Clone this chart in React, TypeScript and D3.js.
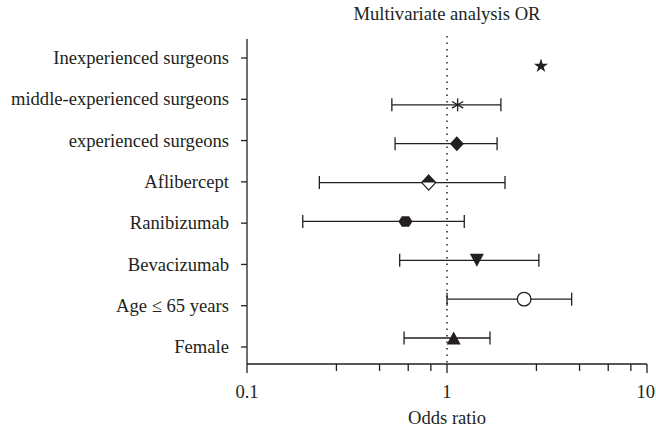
import React from "react";
import * as d3 from "d3";

// rows top to bottom
const labels = [
  "Inexperienced surgeons",
  "middle-experienced surgeons",
  "experienced surgeons",
  "Aflibercept",
  "Ranibizumab",
  "Bevacizumab",
  "Age ≤ 65 years",
  "Female",
];
const oddsRatio = [2.95, 1.13, 1.12, 0.81, 0.62, 1.41, 2.43, 1.08];
const ciLow = [null, 0.53, 0.55, 0.23, 0.19, 0.58, 1.0, 0.61];
const ciHigh = [null, 1.86, 1.78, 1.95, 1.22, 2.88, 4.2, 1.64];
const markers = ["star", "asterisk", "diamond", "halfDiamond", "hexagon", "triangleDown", "circle", "triangleUp"];

const majorTicks = [0.1, 1, 10];
const minorTicks = [0.28, 0.46, 0.64, 0.83, 2.8, 4.6, 6.4, 8.3];

const width = 656;
const height = 432;
const font = "'Liberation Serif', 'Times New Roman', serif";
const ink = "#231f20";
const fs = 18.6;

const x = d3.scaleLog().domain([0.1, 10]).range([247, 647]);
const yLabel = d3.scalePoint().domain(labels).range([58, 347]);
const yMark = d3.scalePoint().domain(labels).range([66, 338]);
const axisY = 364;

function markerPath(type: string): string {
  switch (type) {
    case "star":
      return d3.symbol().type(d3.symbolStar).size(62)()!;
    case "diamond":
      return "M0,-7.5L7,0L0,7.5L-7,0Z";
    case "hexagon":
      return "M-7,0L-3.6,-5.2L3.6,-5.2L7,0L3.6,5.2L-3.6,5.2Z";
    case "triangleDown":
      return "M-7,-6.5L7,-6.5L0,6.5Z";
    case "triangleUp":
      return "M-7,6.5L7,6.5L0,-6.5Z";
    default:
      return "";
  }
}

function Marker({ type, cx, cy }: { type: string; cx: number; cy: number }) {
  const t = `translate(${cx},${cy})`;
  if (type === "asterisk") {
    return (
      <g transform={t} stroke={ink} strokeWidth={1.3}>
        <line x1={0} y1={-6.5} x2={0} y2={6.5} />
        <line x1={-5.6} y1={-3.3} x2={5.6} y2={3.3} />
        <line x1={-5.6} y1={3.3} x2={5.6} y2={-3.3} />
      </g>
    );
  }
  if (type === "circle") {
    return <circle transform={t} r={6.8} fill="#fff" stroke={ink} strokeWidth={1.3} />;
  }
  if (type === "halfDiamond") {
    return (
      <g transform={t}>
        <path d="M0,-7.5L7,0L0,7.5L-7,0Z" fill="#fff" stroke={ink} strokeWidth={1.3} />
        <path d="M-7,0L0,-7.5L7,0Z" fill={ink} />
      </g>
    );
  }
  return <path transform={t} d={markerPath(type)} fill={ink} />;
}

export default function App() {
  return (
    <div style={{ position: "fixed", left: 0, top: 0, width, height, overflow: "hidden" }}>
      <svg width={width} height={height} style={{ display: "block" }}>
        <rect width={width} height={height} fill="#fff" />
        <text x={x(1)} y={20} textAnchor="middle" fontFamily={font} fontSize={fs} fill={ink}>
          Multivariate analysis OR
        </text>

        {/* reference line at OR = 1 */}
        <line x1={x(1)} x2={x(1)} y1={36} y2={axisY} stroke={ink} strokeWidth={1.5} strokeDasharray="1.5,5" />

        {/* left axis */}
        <line x1={x(0.1)} x2={x(0.1)} y1={39} y2={axisY} stroke={ink} strokeWidth={1.3} />
        {labels.map((l) => (
          <g key={l}>
            <line x1={x(0.1) - 6} x2={x(0.1)} y1={yLabel(l)} y2={yLabel(l)} stroke={ink} strokeWidth={1.3} />
            <text x={229} y={yLabel(l)} dy="0.33em" textAnchor="end" fontFamily={font} fontSize={fs} fill={ink}>
              {l}
            </text>
          </g>
        ))}

        {/* bottom axis */}
        <line x1={x(0.1)} x2={x(10)} y1={axisY} y2={axisY} stroke={ink} strokeWidth={1.3} />
        {majorTicks.map((t, i) => (
          <g key={t}>
            <line x1={x(t)} x2={x(t)} y1={axisY} y2={axisY + 9} stroke={ink} strokeWidth={1.3} />
            <text
              x={i === majorTicks.length - 1 ? width - 1 : x(t)}
              y={axisY + 34}
              textAnchor={i === majorTicks.length - 1 ? "end" : "middle"}
              fontFamily={font}
              fontSize={fs}
              fill={ink}
            >
              {t}
            </text>
          </g>
        ))}
        {minorTicks.map((t) => (
          <line key={t} x1={x(t)} x2={x(t)} y1={axisY} y2={axisY + 7} stroke={ink} strokeWidth={1.3} />
        ))}
        <text x={x(1)} y={axisY + 60} textAnchor="middle" fontFamily={font} fontSize={fs} fill={ink}>
          Odds ratio
        </text>

        {/* error bars and markers */}
        {labels.map((l, i) => {
          const cy = yMark(l)!;
          const lo = ciLow[i];
          const hi = ciHigh[i];
          return (
            <g key={l}>
              {lo != null && hi != null && (
                <g stroke={ink} strokeWidth={1.3}>
                  <line x1={x(lo)} x2={x(hi)} y1={cy} y2={cy} />
                  <line x1={x(lo)} x2={x(lo)} y1={cy - 6.5} y2={cy + 6.5} />
                  <line x1={x(hi)} x2={x(hi)} y1={cy - 6.5} y2={cy + 6.5} />
                </g>
              )}
              <Marker type={markers[i]} cx={x(oddsRatio[i])} cy={cy} />
            </g>
          );
        })}
      </svg>
    </div>
  );
}
